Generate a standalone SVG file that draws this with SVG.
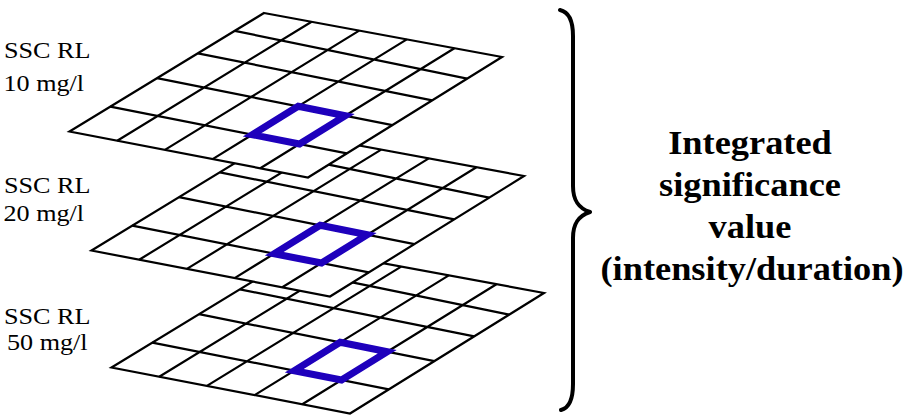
<svg xmlns="http://www.w3.org/2000/svg" xmlns:xlink="http://www.w3.org/1999/xlink" width="910" height="420" viewBox="0 0 910 420">
<style>
.grid-outline{fill:#ffffff;stroke:#000000;stroke-width:2.2;stroke-linejoin:miter}
.grid-line{fill:none;stroke:#000000;stroke-width:2.2}
.cell{fill:none;stroke:#1e00bc;stroke-width:7;stroke-linejoin:miter}
.lbl{font-family:"Liberation Serif","Times New Roman",serif;font-size:24px;fill:#000000}
.big{font-family:"Liberation Serif","Times New Roman",serif;font-size:34px;font-weight:bold;fill:#000000;text-anchor:middle}
.brace{fill:none;stroke:#000000;stroke-width:4;stroke-linecap:round;stroke-linejoin:round}
</style>
<defs>
<g id="grid">
<polygon class="grid-outline" points="264,13 502,57 308,177.5 69.5,131.5"/>
<path class="grid-line" d="M311.6,21.8 L117.2,140.7 M359.2,30.6 L164.9,149.9 M406.8,39.4 L212.6,159.1 M454.4,48.2 L260.3,168.3 M234.8,30.8 L467.1,78.7 M197.9,53.3 L432.2,100.4 M157,78.2 L392.4,125.1 M110.3,106.6 L346.8,153.4"/>
<polygon class="cell" points="298.2,106.3 345.3,115.7 299.5,144 252.2,134.7"/>
</g>
</defs>
<g id="layer-50">
<use xlink:href="#grid" href="#grid" transform="translate(42,236)"/>
<text class="lbl" transform="translate(4,324) scale(1.09,1)">SSC RL</text>
<text class="lbl" transform="translate(7,350) scale(1.09,1)">50 mg/l</text>
</g>
<g id="layer-20">
<use xlink:href="#grid" href="#grid" transform="translate(22,119)"/>
<text class="lbl" transform="translate(4,193) scale(1.09,1)">SSC RL</text>
<text class="lbl" transform="translate(3.5,221) scale(1.09,1)">20 mg/l</text>
</g>
<g id="layer-10">
<use xlink:href="#grid" href="#grid"/>
<text class="lbl" transform="translate(4,58) scale(1.09,1)">SSC RL</text>
<text class="lbl" transform="translate(3.5,91) scale(1.09,1)">10 mg/l</text>
</g>
<g id="connectors">
<path class="brace" d="M560,10 C569,12 573,20 573,36 L573,186 C573,200 578,208 590,212 C578,216 573,224 573,238 L573,384 C573,400 569,408 561,410"/>
</g>
<g id="result">
<text class="big" transform="translate(750,154) scale(1.07,1)">Integrated</text>
<text class="big" transform="translate(750,196) scale(1.07,1)">significance</text>
<text class="big" transform="translate(750,238) scale(1.07,1)">value</text>
<text class="big" transform="translate(752,280) scale(1.07,1)">(intensity/duration)</text>
</g>
</svg>
